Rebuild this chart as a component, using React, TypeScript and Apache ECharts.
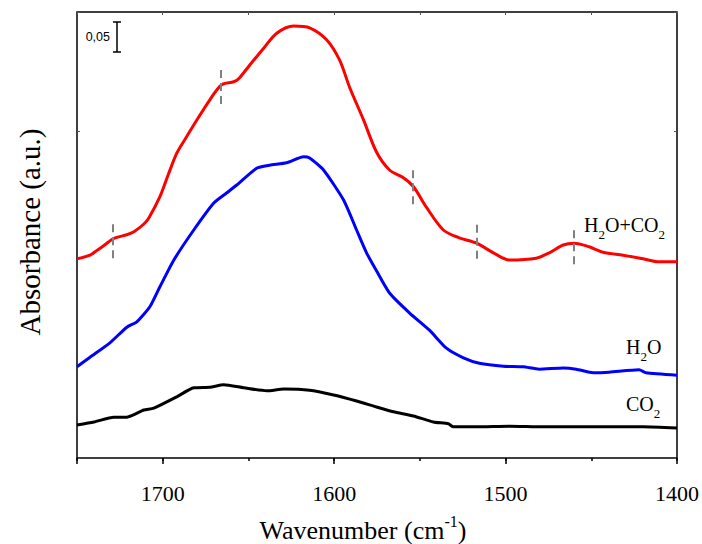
import React, { useEffect, useRef } from "react";
import * as echarts from "echarts";

// Wavenumber range (cm-1), axis shown inverted
const xMin = 1400;
const xMax = 1750;
const majorTickStep = 100;
const minorTickStep = 50;

// Spectra: [wavenumber, absorbance (offset, a.u.)]
const h2oCo2: [number, number][] = [
  [1750, 0.332], [1742.4, 0.338], [1738.4, 0.346], [1734.3, 0.354], [1728.5, 0.366],
  [1720.9, 0.372], [1716.8, 0.377], [1711.0, 0.39], [1708.1, 0.4], [1701.7, 0.435],
  [1696.8, 0.472], [1691.8, 0.508], [1686.8, 0.532], [1681.9, 0.555], [1672.5, 0.597],
  [1665.6, 0.622], [1658.6, 0.627], [1655.7, 0.632], [1649.2, 0.655], [1641.1, 0.683],
  [1633.5, 0.708], [1623.6, 0.72], [1614.3, 0.717], [1604.4, 0.697], [1596.8, 0.663],
  [1591.0, 0.618], [1582.8, 0.563], [1575.3, 0.51], [1567.7, 0.48], [1559.6, 0.467],
  [1553.7, 0.452], [1546.2, 0.418], [1536.3, 0.38], [1527.0, 0.367], [1517.0, 0.358],
  [1507.1, 0.342], [1497.8, 0.33], [1482.1, 0.333], [1474.5, 0.342], [1466.4, 0.355],
  [1460.0, 0.358], [1451.2, 0.352], [1443.1, 0.343], [1431.4, 0.338], [1419.8, 0.332],
  [1410.5, 0.327], [1400, 0.327],
];

const h2o: [number, number][] = [
  [1750, 0.152], [1742.4, 0.168], [1730.8, 0.192], [1720.9, 0.218], [1715.1, 0.227],
  [1707.5, 0.252], [1701.7, 0.285], [1693.5, 0.33], [1681.9, 0.38], [1670.2, 0.425],
  [1662.6, 0.442], [1656.8, 0.455], [1645.2, 0.483], [1637.6, 0.488], [1627.7, 0.492],
  [1617.8, 0.502], [1614.3, 0.5], [1606.2, 0.48], [1594.5, 0.43], [1586.9, 0.38],
  [1581.1, 0.342], [1575.3, 0.312], [1567.7, 0.275], [1556.1, 0.242], [1544.4, 0.213],
  [1534.5, 0.183], [1524.6, 0.167], [1515.3, 0.158], [1501.3, 0.153], [1489.7, 0.152],
  [1480.4, 0.148], [1466.4, 0.15], [1458.8, 0.148], [1448.9, 0.142], [1439.6, 0.143],
  [1422.1, 0.147], [1418.1, 0.142], [1400, 0.138],
];

const co2: [number, number][] = [
  [1750, 0.055], [1740.1, 0.06], [1728.5, 0.068], [1720.9, 0.068], [1711.0, 0.08],
  [1705.2, 0.083], [1691.8, 0.102], [1681.9, 0.117], [1672.5, 0.118], [1664.4, 0.122],
  [1652.7, 0.117], [1639.3, 0.112], [1629.4, 0.115], [1614.3, 0.113], [1600.3, 0.105],
  [1586.9, 0.095], [1575.3, 0.085], [1565.4, 0.077], [1553.7, 0.07], [1542.1, 0.06],
  [1533.4, 0.057], [1530.4, 0.052], [1517.0, 0.052], [1497.8, 0.053], [1478.0, 0.052],
  [1458.8, 0.052], [1439.6, 0.052], [1419.8, 0.052], [1400, 0.05],
];

// Band positions marked with dashed lines on the H2O+CO2 spectrum
const bandPositions = [1729, 1666, 1554, 1517, 1460];
const bandCenters = [0.363, 0.62, 0.453, 0.362, 0.353];
const bandHalfLength = 0.03;

const yMin = 0;
const yMax = 0.7433;
const yTick = 0.545;

const serif = "Liberation Serif";
const sans = "Liberation Sans";

export default function App() {
  const ref = useRef<HTMLDivElement>(null);
  useEffect(() => {
    document.body.style.margin = "0";
    if (!ref.current) return;
    const chart = echarts.init(ref.current, undefined, { renderer: "svg" });
    const richMain = { fontSize: 20, fontFamily: serif, color: "#000", verticalAlign: "top", lineHeight: 20 };
    const richSub = { fontSize: 13, fontFamily: serif, color: "#000", verticalAlign: "top", lineHeight: 13, padding: [13, 0, 0, 0] };
    const option: any = {
      animation: false,
      backgroundColor: "#fff",
      grid: {
        left: 77, right: 24, top: 12, bottom: 86,
        show: true, borderColor: "#000", borderWidth: 1.5, backgroundColor: "transparent",
      },
      xAxis: [
        {
          type: "value", position: "bottom", inverse: true, min: xMin, max: xMax,
          interval: majorTickStep,
          axisLine: { show: false },
          axisTick: { show: true, inside: false, length: 6, lineStyle: { color: "#000", width: 1.5 } },
          axisLabel: {
            show: true, margin: 24, color: "#000", fontSize: 22, fontFamily: serif,
            formatter: (v: number) => (v === xMax ? "" : String(v)),
          },
          splitLine: { show: false },
        },
        {
          type: "value", position: "bottom", inverse: true, min: xMin, max: xMax,
          interval: minorTickStep,
          axisLine: { show: false },
          axisTick: { show: true, inside: false, length: 3, lineStyle: { color: "#000", width: 1.5 } },
          axisLabel: { show: false },
          splitLine: { show: false },
        },
        {
          type: "value", position: "top", inverse: true, min: xMin, max: xMax,
          interval: minorTickStep,
          axisLine: { show: false },
          axisTick: { show: true, inside: true, length: 3, lineStyle: { color: "#555", width: 1 } },
          axisLabel: { show: false },
          splitLine: { show: false },
        },
      ],
      yAxis: [
        {
          type: "value", position: "left", min: yMin, max: yMax, interval: yTick,
          axisLine: { show: false },
          axisTick: { show: true, inside: true, length: 3, lineStyle: { color: "#555", width: 1 } },
          axisLabel: { show: false },
          splitLine: { show: false },
        },
        {
          type: "value", position: "right", min: yMin, max: yMax, interval: yTick,
          axisLine: { show: false },
          axisTick: { show: true, inside: true, length: 3, lineStyle: { color: "#555", width: 1 } },
          axisLabel: { show: false },
          splitLine: { show: false },
        },
      ],
      series: [
        {
          type: "line", name: "CO2", data: co2, showSymbol: false, smooth: 0.2,
          lineStyle: { color: "#000", width: 3 }, z: 3,
        },
        {
          type: "line", name: "H2O", data: h2o, showSymbol: false, smooth: 0.2,
          lineStyle: { color: "#0000ff", width: 3 }, z: 3,
        },
        {
          type: "line", name: "H2O+CO2", data: h2oCo2, showSymbol: false, smooth: 0.3,
          lineStyle: { color: "#ff0000", width: 3 }, z: 3,
          markLine: {
            silent: true, symbol: "none", label: { show: false },
            lineStyle: { color: "#808080", width: 2, type: [8, 5] },
            data: bandPositions.map((wn, i) => [
              { coord: [wn, bandCenters[i] - bandHalfLength] },
              { coord: [wn, bandCenters[i] + bandHalfLength] },
            ]),
          },
        },
      ],
      graphic: [
        // scale bar 0,05
        { type: "line", shape: { x1: 117, y1: 22, x2: 117, y2: 52 }, style: { stroke: "#000", lineWidth: 1.5 } },
        { type: "line", shape: { x1: 113, y1: 22, x2: 121, y2: 22 }, style: { stroke: "#000", lineWidth: 1.5 } },
        { type: "line", shape: { x1: 113, y1: 52, x2: 121, y2: 52 }, style: { stroke: "#000", lineWidth: 1.5 } },
        {
          type: "text", x: 110, y: 37,
          style: { text: "0,05", fontSize: 12.5, fontFamily: sans, fill: "#000", align: "right", verticalAlign: "middle" },
        },
        // series labels
        {
          type: "text", x: 584, y: 215,
          style: { text: "{m|H}{s|2}{m|O+CO}{s|2}", rich: { m: richMain, s: richSub } },
        },
        {
          type: "text", x: 626, y: 337,
          style: { text: "{m|H}{s|2}{m|O}", rich: { m: richMain, s: richSub } },
        },
        {
          type: "text", x: 626, y: 394,
          style: { text: "{m|CO}{s|2}", rich: { m: richMain, s: richSub } },
        },
        // axis titles
        {
          type: "text", x: 363, y: 513,
          style: {
            text: "{t|Wavenumber (cm}{p|-1}{t|)}", align: "center",
            rich: {
              t: { fontSize: 26, fontFamily: serif, color: "#000", verticalAlign: "bottom", lineHeight: 30 },
              p: { fontSize: 16, fontFamily: serif, color: "#000", verticalAlign: "top", lineHeight: 16 },
            },
          },
        },
        {
          type: "text", x: 30, y: 232, rotation: Math.PI / 2,
          style: {
            text: "Absorbance (a.u.)", fontSize: 29, fontFamily: serif, fill: "#000",
            align: "center", verticalAlign: "middle",
          },
        },
      ],
    };
    chart.setOption(option);
    return () => chart.dispose();
  }, []);
  return <div ref={ref} style={{ width: 702, height: 544 }} />;
}
